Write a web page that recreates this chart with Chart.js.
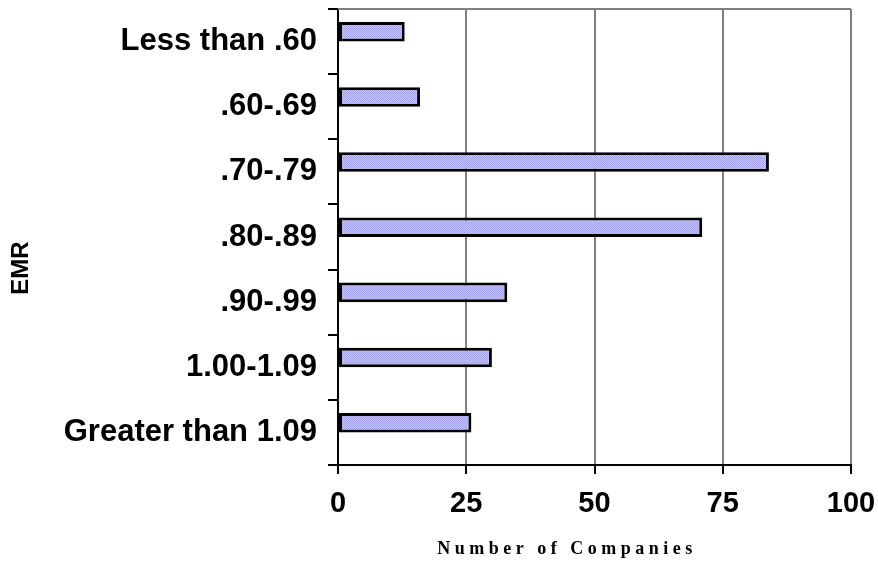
<!DOCTYPE html>
<html>
<head>
<meta charset="utf-8">
<title>EMR</title>
<script src="https://cdn.jsdelivr.net/npm/chart.js@4"></script>
<style>
  body { margin: 0; background: #fff; }
</style>
</head>
<body>
<canvas id="chart1" width="878" height="563"></canvas>
<script>
var categorias = ['Less than .60', '.60-.69', '.70-.79', '.80-.89', '.90-.99', '1.00-1.09', 'Greater than 1.09'];
var empresas = [13, 16, 84, 71, 33, 30, 26];
var ticksX = [0, 25, 50, 75, 100];
var tituloX = 'Number of Companies';
var tituloY = 'EMR';

// relleno rayado azul claro de las barras
function patronBarras(ctx) {
    var c = document.createElement('canvas');
    c.width = 4; c.height = 4;
    var p = c.getContext('2d');
    p.fillStyle = '#c4c4fb';
    p.fillRect(0, 0, 4, 4);
    p.fillStyle = '#a4a4ee';
    for (var i = 0; i < 4; i++) {
        p.fillRect(i, (i * 3) % 4, 1, 1);
        p.fillRect(i, (i * 3 + 2) % 4, 1, 1);
    }
    return ctx.createPattern(c, 'repeat');
}

// borde superior gris y titulos de los ejes
var marco = {
    id: 'marco',
    afterDraw: function (chart) {
        var ctx = chart.ctx;
        var a = chart.chartArea;
        ctx.save();
        ctx.strokeStyle = '#808080';
        ctx.lineWidth = 2;
        ctx.beginPath();
        ctx.moveTo(a.left, a.top);
        ctx.lineTo(a.right, a.top);
        ctx.stroke();

        ctx.fillStyle = '#000';
        ctx.textAlign = 'center';
        ctx.textBaseline = 'middle';
        ctx.font = 'bold 18px "Liberation Serif"';
        ctx.letterSpacing = '4.5px';
        ctx.fillText(tituloX, 567, 549);
        ctx.letterSpacing = '0px';

        ctx.translate(21, 268);
        ctx.rotate(-Math.PI / 2);
        ctx.font = 'bold 24px "Liberation Sans"';
        ctx.fillText(tituloY, 0, 0);
        ctx.restore();
    }
};

var ctx1 = document.getElementById('chart1').getContext('2d');
var chart1 = new Chart(ctx1, {
    type: 'bar',
    data: {
        labels: categorias,
        datasets: [{
            data: empresas,
            backgroundColor: patronBarras(ctx1),
            borderColor: '#000',
            borderWidth: 3,
            borderSkipped: false
        }, {
            // segunda serie vacia, solo ocupa el hueco debajo de cada barra
            data: categorias.map(function () { return null; })
        }]
    },
    options: {
        indexAxis: 'y',
        responsive: false,
        animation: false,
        barPercentage: 1,
        categoryPercentage: 0.6,
        layout: { padding: { top: 9, right: 27, left: 0, bottom: 0 } },
        plugins: {
            legend: { display: false },
            tooltip: { enabled: false }
        },
        scales: {
            x: {
                min: 0,
                max: 100,
                afterBuildTicks: function (scale) {
                    scale.ticks = ticksX.map(function (v) { return { value: v }; });
                },
                afterFit: function (scale) {
                    scale.height = 98;
                    scale.paddingLeft = 0;
                    scale.paddingRight = 0;
                },
                grid: {
                    color: function (c) { return c.index === 0 ? '#000' : '#808080'; },
                    lineWidth: 2,
                    tickColor: '#000',
                    tickLength: 9
                },
                border: { color: '#000', width: 2 },
                ticks: {
                    color: '#000',
                    padding: 13,
                    maxRotation: 0,
                    font: { family: 'Liberation Sans', size: 29, weight: 'bold' }
                }
            },
            y: {
                afterFit: function (scale) {
                    scale.width = 338;
                    scale.paddingTop = 0;
                    scale.paddingBottom = 0;
                },
                grid: {
                    offset: true,
                    drawOnChartArea: false,
                    tickColor: '#000',
                    lineWidth: 2,
                    tickLength: 10
                },
                border: { color: '#000', width: 2 },
                ticks: {
                    color: '#000',
                    padding: 11,
                    font: { family: 'Liberation Sans', size: 31, weight: 'bold' }
                }
            }
        }
    },
    plugins: [marco]
});
</script>
</body>
</html>
